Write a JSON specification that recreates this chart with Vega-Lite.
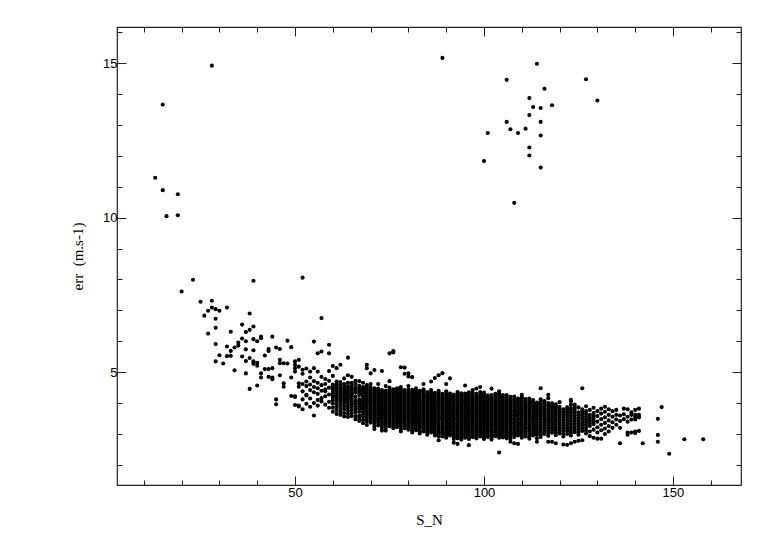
{
"$schema": "https://vega.github.io/schema/vega-lite/v6.json",
"width": 624, "height": 458,
"autosize": "none",
"padding": {"left": 117, "top": 27, "right": 41, "bottom": 57},
"background": "white",
"config": {"view": {"stroke": "#222", "strokeWidth": 1.2},
 "axis": {"domain": false, "grid": false, "tickColor": "#222", "tickWidth": 1, "labelFont": "Liberation Sans", "labelFontSize": 13, "labelColor": "black", "titleFont": "Liberation Serif", "titleFontSize": 15, "titleFontWeight": "normal", "titleColor": "black"}},
"datasets": {
"pts": [
{"x":13,"y":11.29},{"x":15,"y":13.66},{"x":15,"y":10.89},{"x":16,"y":10.05},{"x":19,"y":10.76},{"x":19,"y":10.08},{"x":28,"y":14.92},
{"x":20,"y":7.61},{"x":23,"y":7.99},{"x":25,"y":7.28},{"x":26,"y":6.83},{"x":27,"y":6.99},{"x":27,"y":6.25},{"x":28,"y":7.31},{"x":28,"y":7.09},
{"x":29,"y":7.04},{"x":29,"y":6.73},{"x":29,"y":6.44},{"x":29,"y":5.91},{"x":29,"y":5.35},{"x":30,"y":6.99},{"x":30,"y":5.55},{"x":31,"y":5.28},
{"x":32,"y":7.09},{"x":32,"y":5.83},{"x":32,"y":5.52},{"x":33,"y":6.31},{"x":33,"y":5.69},{"x":33,"y":5.53},{"x":34,"y":5.8},{"x":34,"y":5.06},
{"x":35,"y":5.96},{"x":35,"y":5.86},{"x":36,"y":6.54},{"x":36,"y":6.09},{"x":36,"y":5.51},{"x":37,"y":6.3},{"x":37,"y":6.0},{"x":37,"y":5.74},{"x":37,"y":5.36},{"x":37,"y":4.96},
{"x":38,"y":6.9},{"x":38,"y":6.37},{"x":38,"y":5.46},{"x":38,"y":4.46},{"x":39,"y":7.96},{"x":39,"y":6.48},{"x":39,"y":6.07},{"x":39,"y":5.71},{"x":39,"y":5.35},{"x":39,"y":5.27},
{"x":40,"y":6.0},{"x":40,"y":5.3},{"x":40,"y":5.21},{"x":40,"y":4.57},{"x":41,"y":6.15},{"x":41,"y":6.1},{"x":41,"y":4.96},{"x":41,"y":4.83},{"x":42,"y":5.54},{"x":42,"y":5.1},
{"x":43,"y":5.75},{"x":43,"y":5.69},{"x":43,"y":5.1},{"x":43,"y":4.85},{"x":44,"y":6.15},{"x":44,"y":5.13},{"x":44,"y":4.83},{"x":44,"y":4.77},{"x":45,"y":5.8},{"x":45,"y":4.12},{"x":45,"y":3.96},
{"x":46,"y":5.75},{"x":46,"y":5.4},{"x":46,"y":5.29},{"x":46,"y":4.9},{"x":47,"y":5.29},{"x":47,"y":4.64},{"x":47,"y":4.53},{"x":48,"y":6.02},{"x":48,"y":5.28},
{"x":49,"y":5.81},{"x":49,"y":4.83},{"x":49,"y":4.23},{"x":50,"y":5.35},{"x":50,"y":5.24},{"x":50,"y":5.13},{"x":50,"y":5.02},{"x":50,"y":4.2},{"x":50,"y":3.94},{"x":50,"y":4.22},
{"x":51,"y":5.4},{"x":51,"y":5.18},{"x":51,"y":4.64},{"x":51,"y":4.53},{"x":51,"y":3.92},{"x":51,"y":3.89},{"x":52,"y":8.06},
{"x":89,"y":15.17},{"x":114,"y":14.98},{"x":106,"y":14.46},{"x":127,"y":14.48},{"x":116,"y":14.17},{"x":112,"y":13.87},{"x":113,"y":13.58},{"x":115,"y":13.55},{"x":118,"y":13.64},{"x":130,"y":13.79},
{"x":112,"y":13.32},{"x":106,"y":13.1},{"x":115,"y":13.1},{"x":107,"y":12.86},{"x":109,"y":12.74},{"x":111,"y":12.88},{"x":101,"y":12.74},{"x":115,"y":12.66},{"x":112,"y":12.27},{"x":112,"y":12.01},
{"x":100,"y":11.83},{"x":115,"y":11.62},{"x":108,"y":10.48},
{"x":52,"y":3.8},{"x":52,"y":4.12},{"x":52,"y":4.38},{"x":52,"y":4.62},{"x":52,"y":4.95},{"x":52,"y":5.08},
{"x":53,"y":4.25},{"x":53,"y":4.27},{"x":53,"y":4.55},{"x":53,"y":4.7},{"x":53,"y":3.98},{"x":53,"y":5.12},
{"x":54,"y":3.88},{"x":54,"y":4.42},{"x":54,"y":4.6},{"x":54,"y":4.83},{"x":54,"y":5.02},{"x":54,"y":4.15},
{"x":55,"y":3.6},{"x":55,"y":4.0},{"x":55,"y":4.35},{"x":55,"y":4.52},{"x":55,"y":4.71},{"x":55,"y":5.13},{"x":55,"y":5.99},
{"x":56,"y":4.1},{"x":56,"y":4.3},{"x":56,"y":4.48},{"x":56,"y":4.66},{"x":56,"y":5.02},{"x":56,"y":5.61},{"x":56,"y":3.92},
{"x":57,"y":4.16},{"x":57,"y":4.4},{"x":57,"y":4.58},{"x":57,"y":4.85},{"x":57,"y":5.67},{"x":57,"y":6.75},{"x":57,"y":4.05},
{"x":58,"y":3.95},{"x":58,"y":4.22},{"x":58,"y":4.45},{"x":58,"y":4.62},{"x":58,"y":4.78},{"x":58,"y":4.38},
{"x":59,"y":4.04},{"x":59,"y":4.28},{"x":59,"y":4.5},{"x":59,"y":4.72},{"x":59,"y":5.04},{"x":59,"y":5.61},{"x":59,"y":5.89},{"x":59,"y":3.85},
{"x":60,"y":3.72},{"x":60,"y":3.98},{"x":60,"y":4.18},{"x":60,"y":4.32},{"x":60,"y":4.46},{"x":60,"y":4.6},{"x":60,"y":4.88},{"x":60,"y":5.2},
{"x":60,"y":3.85},{"x":60,"y":4.08},{"x":60,"y":4.25},{"x":60,"y":4.39},{"x":60,"y":4.53},
{"x":61,"y":3.9},{"x":61,"y":4.1},{"x":61,"y":4.25},{"x":61,"y":4.4},{"x":61,"y":4.55},{"x":61,"y":4.7},{"x":61,"y":5.13},{"x":61,"y":3.65},
{"x":61,"y":3.78},{"x":61,"y":4.0},{"x":61,"y":4.18},{"x":61,"y":4.33},{"x":61,"y":4.48},{"x":61,"y":4.62},
{"x":62,"y":3.62},{"x":62,"y":3.84},{"x":62,"y":4.05},{"x":62,"y":4.2},{"x":62,"y":4.36},{"x":62,"y":4.52},{"x":62,"y":4.68},{"x":62,"y":5.24},
{"x":62,"y":3.73},{"x":62,"y":3.95},{"x":62,"y":4.12},{"x":62,"y":4.28},{"x":62,"y":4.44},{"x":62,"y":4.6},
{"x":63,"y":3.57},{"x":63,"y":3.8},{"x":63,"y":4.0},{"x":63,"y":4.15},{"x":63,"y":4.3},{"x":63,"y":4.44},{"x":63,"y":4.62},{"x":63,"y":4.8},
{"x":63,"y":3.68},{"x":63,"y":3.9},{"x":63,"y":4.08},{"x":63,"y":4.22},{"x":63,"y":4.37},{"x":63,"y":4.53},
{"x":64,"y":3.75},{"x":64,"y":3.95},{"x":64,"y":4.12},{"x":64,"y":4.28},{"x":64,"y":4.4},{"x":64,"y":4.55},{"x":64,"y":4.9},{"x":64,"y":5.47},{"x":64,"y":3.55},
{"x":64,"y":3.65},{"x":64,"y":3.85},{"x":64,"y":4.04},{"x":64,"y":4.2},{"x":64,"y":4.34},{"x":64,"y":4.48},{"x":64,"y":4.66},
{"x":65,"y":3.68},{"x":65,"y":3.88},{"x":65,"y":4.05},{"x":65,"y":4.22},{"x":65,"y":4.35},{"x":65,"y":4.48},{"x":65,"y":4.66},{"x":65,"y":4.85},
{"x":65,"y":3.58},{"x":65,"y":3.78},{"x":65,"y":3.96},{"x":65,"y":4.14},{"x":65,"y":4.29},{"x":65,"y":4.42},{"x":65,"y":4.57},
{"x":66,"y":3.48},{"x":66,"y":3.7},{"x":66,"y":3.9},{"x":66,"y":4.08},{"x":66,"y":4.2},{"x":66,"y":4.34},{"x":66,"y":4.5},{"x":66,"y":4.72},
{"x":66,"y":3.58},{"x":66,"y":3.8},{"x":66,"y":4.0},{"x":66,"y":4.42},{"x":66,"y":4.62},
{"x":67,"y":3.6},{"x":67,"y":3.82},{"x":67,"y":3.98},{"x":67,"y":4.12},{"x":67,"y":4.26},{"x":67,"y":4.4},{"x":67,"y":4.56},{"x":67,"y":4.71},{"x":67,"y":3.42},
{"x":67,"y":3.52},{"x":67,"y":3.72},{"x":67,"y":3.9},{"x":67,"y":4.05},{"x":67,"y":4.33},{"x":67,"y":4.48},
{"x":68,"y":3.35},{"x":68,"y":3.55},{"x":68,"y":3.72},{"x":68,"y":3.86},{"x":68,"y":3.98},{"x":68,"y":4.1},{"x":68,"y":4.24},{"x":68,"y":4.38},{"x":68,"y":4.52},{"x":68,"y":4.66},
{"x":68,"y":3.45},{"x":68,"y":3.64},{"x":68,"y":3.8},{"x":68,"y":3.92},{"x":68,"y":4.04},{"x":68,"y":4.17},{"x":68,"y":4.31},{"x":68,"y":4.45},
{"x":69,"y":3.29},{"x":69,"y":3.5},{"x":69,"y":3.66},{"x":69,"y":3.8},{"x":69,"y":3.94},{"x":69,"y":4.06},{"x":69,"y":4.18},{"x":69,"y":4.3},{"x":69,"y":4.44},{"x":69,"y":4.58},{"x":69,"y":5.13},{"x":69,"y":5.24},
{"x":69,"y":3.4},{"x":69,"y":3.58},{"x":69,"y":3.73},{"x":69,"y":3.87},{"x":69,"y":4.0},{"x":69,"y":4.12},{"x":69,"y":4.24},{"x":69,"y":4.37},{"x":69,"y":4.51},
{"x":70,"y":3.37},{"x":70,"y":3.52},{"x":70,"y":3.64},{"x":70,"y":3.76},{"x":70,"y":3.88},{"x":70,"y":4.0},{"x":70,"y":4.12},{"x":70,"y":4.24},{"x":70,"y":4.36},{"x":70,"y":4.5},{"x":70,"y":4.96},
{"x":70,"y":3.44},{"x":70,"y":3.58},{"x":70,"y":3.7},{"x":70,"y":3.82},{"x":70,"y":3.94},{"x":70,"y":4.06},{"x":70,"y":4.18},{"x":70,"y":4.3},{"x":70,"y":4.43},{"x":70,"y":4.62},
{"x":71,"y":3.16},{"x":71,"y":3.33},{"x":71,"y":3.48},{"x":71,"y":3.6},{"x":71,"y":3.72},{"x":71,"y":3.85},{"x":71,"y":3.97},{"x":71,"y":4.1},{"x":71,"y":4.22},{"x":71,"y":4.34},{"x":71,"y":4.48},{"x":71,"y":5.07},
{"x":71,"y":3.25},{"x":71,"y":3.41},{"x":71,"y":3.54},{"x":71,"y":3.66},{"x":71,"y":3.78},{"x":71,"y":3.91},{"x":71,"y":4.03},{"x":71,"y":4.16},{"x":71,"y":4.28},{"x":71,"y":4.41},
{"x":72,"y":3.37},{"x":72,"y":3.5},{"x":72,"y":3.62},{"x":72,"y":3.74},{"x":72,"y":3.86},{"x":72,"y":3.98},{"x":72,"y":4.1},{"x":72,"y":4.22},{"x":72,"y":4.35},{"x":72,"y":4.47},{"x":72,"y":4.62},
{"x":72,"y":3.28},{"x":72,"y":3.44},{"x":72,"y":3.56},{"x":72,"y":3.68},{"x":72,"y":3.8},{"x":72,"y":3.92},{"x":72,"y":4.04},{"x":72,"y":4.16},{"x":72,"y":4.29},{"x":72,"y":4.41},
{"x":73,"y":3.11},{"x":73,"y":3.3},{"x":73,"y":3.45},{"x":73,"y":3.58},{"x":73,"y":3.7},{"x":73,"y":3.82},{"x":73,"y":3.95},{"x":73,"y":4.07},{"x":73,"y":4.18},{"x":73,"y":4.3},{"x":73,"y":4.42},{"x":73,"y":5.04},
{"x":73,"y":3.21},{"x":73,"y":3.38},{"x":73,"y":3.52},{"x":73,"y":3.64},{"x":73,"y":3.76},{"x":73,"y":3.88},{"x":73,"y":4.01},{"x":73,"y":4.13},{"x":73,"y":4.24},{"x":73,"y":4.36},
{"x":74,"y":3.11},{"x":74,"y":3.28},{"x":74,"y":3.42},{"x":74,"y":3.55},{"x":74,"y":3.68},{"x":74,"y":3.8},{"x":74,"y":3.92},{"x":74,"y":4.04},{"x":74,"y":4.16},{"x":74,"y":4.28},{"x":74,"y":4.4},{"x":74,"y":4.55},
{"x":74,"y":3.2},{"x":74,"y":3.35},{"x":74,"y":3.49},{"x":74,"y":3.62},{"x":74,"y":3.74},{"x":74,"y":3.86},{"x":74,"y":3.98},{"x":74,"y":4.1},{"x":74,"y":4.22},{"x":74,"y":4.34},
{"x":75,"y":3.25},{"x":75,"y":3.4},{"x":75,"y":3.52},{"x":75,"y":3.64},{"x":75,"y":3.76},{"x":75,"y":3.88},{"x":75,"y":4.0},{"x":75,"y":4.12},{"x":75,"y":4.24},{"x":75,"y":4.36},{"x":75,"y":4.5},{"x":75,"y":4.71},{"x":75,"y":5.61},
{"x":75,"y":3.32},{"x":75,"y":3.46},{"x":75,"y":3.58},{"x":75,"y":3.7},{"x":75,"y":3.82},{"x":75,"y":3.94},{"x":75,"y":4.06},{"x":75,"y":4.18},{"x":75,"y":4.3},{"x":75,"y":4.43},
{"x":76,"y":3.19},{"x":76,"y":3.34},{"x":76,"y":3.47},{"x":76,"y":3.6},{"x":76,"y":3.72},{"x":76,"y":3.84},{"x":76,"y":3.96},{"x":76,"y":4.08},{"x":76,"y":4.2},{"x":76,"y":4.32},{"x":76,"y":4.45},{"x":76,"y":5.64},{"x":76,"y":5.68},
{"x":76,"y":3.27},{"x":76,"y":3.41},{"x":76,"y":3.54},{"x":76,"y":3.66},{"x":76,"y":3.78},{"x":76,"y":3.9},{"x":76,"y":4.02},{"x":76,"y":4.14},{"x":76,"y":4.26},{"x":76,"y":4.38},
{"x":77,"y":3.22},{"x":77,"y":3.36},{"x":77,"y":3.5},{"x":77,"y":3.62},{"x":77,"y":3.74},{"x":77,"y":3.86},{"x":77,"y":3.98},{"x":77,"y":4.1},{"x":77,"y":4.22},{"x":77,"y":4.35},{"x":77,"y":4.48},
{"x":77,"y":3.29},{"x":77,"y":3.43},{"x":77,"y":3.56},{"x":77,"y":3.68},{"x":77,"y":3.8},{"x":77,"y":3.92},{"x":77,"y":4.04},{"x":77,"y":4.16},{"x":77,"y":4.28},{"x":77,"y":4.41},
{"x":78,"y":3.08},{"x":78,"y":3.26},{"x":78,"y":3.4},{"x":78,"y":3.53},{"x":78,"y":3.65},{"x":78,"y":3.77},{"x":78,"y":3.89},{"x":78,"y":4.01},{"x":78,"y":4.13},{"x":78,"y":4.25},{"x":78,"y":4.38},{"x":78,"y":4.52},{"x":78,"y":5.16},
{"x":78,"y":3.17},{"x":78,"y":3.33},{"x":78,"y":3.47},{"x":78,"y":3.59},{"x":78,"y":3.71},{"x":78,"y":3.83},{"x":78,"y":3.95},{"x":78,"y":4.07},{"x":78,"y":4.19},{"x":78,"y":4.31},{"x":78,"y":4.45},
{"x":79,"y":3.19},{"x":79,"y":3.32},{"x":79,"y":3.45},{"x":79,"y":3.57},{"x":79,"y":3.69},{"x":79,"y":3.81},{"x":79,"y":3.93},{"x":79,"y":4.05},{"x":79,"y":4.17},{"x":79,"y":4.29},{"x":79,"y":4.42},{"x":79,"y":4.95},{"x":79,"y":5.15},
{"x":79,"y":3.26},{"x":79,"y":3.39},{"x":79,"y":3.51},{"x":79,"y":3.63},{"x":79,"y":3.75},{"x":79,"y":3.87},{"x":79,"y":3.99},{"x":79,"y":4.11},{"x":79,"y":4.23},{"x":79,"y":4.35},
{"x":80,"y":3.14},{"x":80,"y":3.28},{"x":80,"y":3.4},{"x":80,"y":3.52},{"x":80,"y":3.64},{"x":80,"y":3.76},{"x":80,"y":3.88},{"x":80,"y":4.0},{"x":80,"y":4.12},{"x":80,"y":4.24},{"x":80,"y":4.36},{"x":80,"y":4.55},{"x":80,"y":4.86},{"x":80,"y":4.96},
{"x":80,"y":3.21},{"x":80,"y":3.34},{"x":80,"y":3.46},{"x":80,"y":3.58},{"x":80,"y":3.7},{"x":80,"y":3.82},{"x":80,"y":3.94},{"x":80,"y":4.06},{"x":80,"y":4.18},{"x":80,"y":4.3},{"x":80,"y":4.44},
{"x":81,"y":3.05},{"x":81,"y":3.2},{"x":81,"y":3.34},{"x":81,"y":3.46},{"x":81,"y":3.58},{"x":81,"y":3.7},{"x":81,"y":3.82},{"x":81,"y":3.94},{"x":81,"y":4.06},{"x":81,"y":4.18},{"x":81,"y":4.3},{"x":81,"y":4.43},{"x":81,"y":4.84},
{"x":81,"y":3.12},{"x":81,"y":3.27},{"x":81,"y":3.4},{"x":81,"y":3.52},{"x":81,"y":3.64},{"x":81,"y":3.76},{"x":81,"y":3.88},{"x":81,"y":4.0},{"x":81,"y":4.12},{"x":81,"y":4.24},{"x":81,"y":4.36},
{"x":82,"y":3.12},{"x":82,"y":3.25},{"x":82,"y":3.38},{"x":82,"y":3.5},{"x":82,"y":3.62},{"x":82,"y":3.74},{"x":82,"y":3.86},{"x":82,"y":3.98},{"x":82,"y":4.1},{"x":82,"y":4.22},{"x":82,"y":4.34},{"x":82,"y":4.48},
{"x":82,"y":3.18},{"x":82,"y":3.31},{"x":82,"y":3.44},{"x":82,"y":3.56},{"x":82,"y":3.68},{"x":82,"y":3.8},{"x":82,"y":3.92},{"x":82,"y":4.04},{"x":82,"y":4.16},{"x":82,"y":4.28},{"x":82,"y":4.4},
{"x":83,"y":3.02},{"x":83,"y":3.16},{"x":83,"y":3.3},{"x":83,"y":3.42},{"x":83,"y":3.54},{"x":83,"y":3.66},{"x":83,"y":3.78},{"x":83,"y":3.9},{"x":83,"y":4.02},{"x":83,"y":4.14},{"x":83,"y":4.26},{"x":83,"y":4.4},
{"x":83,"y":3.09},{"x":83,"y":3.23},{"x":83,"y":3.36},{"x":83,"y":3.48},{"x":83,"y":3.6},{"x":83,"y":3.72},{"x":83,"y":3.84},{"x":83,"y":3.96},{"x":83,"y":4.08},{"x":83,"y":4.2},{"x":83,"y":4.33},
{"x":84,"y":3.08},{"x":84,"y":3.22},{"x":84,"y":3.35},{"x":84,"y":3.47},{"x":84,"y":3.59},{"x":84,"y":3.71},{"x":84,"y":3.83},{"x":84,"y":3.95},{"x":84,"y":4.07},{"x":84,"y":4.19},{"x":84,"y":4.31},{"x":84,"y":4.45},{"x":84,"y":4.62},
{"x":84,"y":3.15},{"x":84,"y":3.28},{"x":84,"y":3.41},{"x":84,"y":3.53},{"x":84,"y":3.65},{"x":84,"y":3.77},{"x":84,"y":3.89},{"x":84,"y":4.01},{"x":84,"y":4.13},{"x":84,"y":4.25},{"x":84,"y":4.38},
{"x":85,"y":2.98},{"x":85,"y":3.12},{"x":85,"y":3.26},{"x":85,"y":3.39},{"x":85,"y":3.51},{"x":85,"y":3.63},{"x":85,"y":3.75},{"x":85,"y":3.87},{"x":85,"y":3.99},{"x":85,"y":4.11},{"x":85,"y":4.23},{"x":85,"y":4.36},
{"x":85,"y":3.05},{"x":85,"y":3.19},{"x":85,"y":3.32},{"x":85,"y":3.45},{"x":85,"y":3.57},{"x":85,"y":3.69},{"x":85,"y":3.81},{"x":85,"y":3.93},{"x":85,"y":4.05},{"x":85,"y":4.17},{"x":85,"y":4.29},
{"x":86,"y":3.05},{"x":86,"y":3.18},{"x":86,"y":3.31},{"x":86,"y":3.44},{"x":86,"y":3.56},{"x":86,"y":3.68},{"x":86,"y":3.8},{"x":86,"y":3.92},{"x":86,"y":4.04},{"x":86,"y":4.16},{"x":86,"y":4.28},{"x":86,"y":4.42},{"x":86,"y":4.7},
{"x":86,"y":3.11},{"x":86,"y":3.24},{"x":86,"y":3.37},{"x":86,"y":3.5},{"x":86,"y":3.62},{"x":86,"y":3.74},{"x":86,"y":3.86},{"x":86,"y":3.98},{"x":86,"y":4.1},{"x":86,"y":4.22},{"x":86,"y":4.35},
{"x":87,"y":2.95},{"x":87,"y":3.1},{"x":87,"y":3.23},{"x":87,"y":3.36},{"x":87,"y":3.48},{"x":87,"y":3.6},{"x":87,"y":3.72},{"x":87,"y":3.84},{"x":87,"y":3.96},{"x":87,"y":4.08},{"x":87,"y":4.2},{"x":87,"y":4.33},{"x":87,"y":4.81},
{"x":87,"y":3.02},{"x":87,"y":3.16},{"x":87,"y":3.29},{"x":87,"y":3.42},{"x":87,"y":3.54},{"x":87,"y":3.66},{"x":87,"y":3.78},{"x":87,"y":3.9},{"x":87,"y":4.02},{"x":87,"y":4.14},{"x":87,"y":4.26},
{"x":88,"y":2.8},{"x":88,"y":3.02},{"x":88,"y":3.16},{"x":88,"y":3.29},{"x":88,"y":3.42},{"x":88,"y":3.54},{"x":88,"y":3.66},{"x":88,"y":3.78},{"x":88,"y":3.9},{"x":88,"y":4.02},{"x":88,"y":4.14},{"x":88,"y":4.27},{"x":88,"y":4.4},{"x":88,"y":4.9},
{"x":88,"y":2.92},{"x":88,"y":3.09},{"x":88,"y":3.22},{"x":88,"y":3.35},{"x":88,"y":3.48},{"x":88,"y":3.6},{"x":88,"y":3.72},{"x":88,"y":3.84},{"x":88,"y":3.96},{"x":88,"y":4.08},{"x":88,"y":4.2},{"x":88,"y":4.33},
{"x":89,"y":2.92},{"x":89,"y":3.06},{"x":89,"y":3.2},{"x":89,"y":3.33},{"x":89,"y":3.45},{"x":89,"y":3.57},{"x":89,"y":3.69},{"x":89,"y":3.81},{"x":89,"y":3.93},{"x":89,"y":4.05},{"x":89,"y":4.17},{"x":89,"y":4.3},{"x":89,"y":4.97},
{"x":89,"y":2.99},{"x":89,"y":3.13},{"x":89,"y":3.26},{"x":89,"y":3.39},{"x":89,"y":3.51},{"x":89,"y":3.63},{"x":89,"y":3.75},{"x":89,"y":3.87},{"x":89,"y":3.99},{"x":89,"y":4.11},{"x":89,"y":4.23},
{"x":90,"y":2.88},{"x":90,"y":3.0},{"x":90,"y":3.13},{"x":90,"y":3.26},{"x":90,"y":3.39},{"x":90,"y":3.51},{"x":90,"y":3.63},{"x":90,"y":3.75},{"x":90,"y":3.87},{"x":90,"y":3.99},{"x":90,"y":4.11},{"x":90,"y":4.24},{"x":90,"y":4.38},{"x":90,"y":4.62},
{"x":90,"y":2.94},{"x":90,"y":3.06},{"x":90,"y":3.19},{"x":90,"y":3.32},{"x":90,"y":3.45},{"x":90,"y":3.57},{"x":90,"y":3.69},{"x":90,"y":3.81},{"x":90,"y":3.93},{"x":90,"y":4.05},{"x":90,"y":4.17},{"x":90,"y":4.31},
{"x":91,"y":2.95},{"x":91,"y":3.08},{"x":91,"y":3.21},{"x":91,"y":3.34},{"x":91,"y":3.46},{"x":91,"y":3.58},{"x":91,"y":3.7},{"x":91,"y":3.82},{"x":91,"y":3.94},{"x":91,"y":4.06},{"x":91,"y":4.18},{"x":91,"y":4.31},{"x":91,"y":4.8},
{"x":91,"y":3.01},{"x":91,"y":3.14},{"x":91,"y":3.27},{"x":91,"y":3.4},{"x":91,"y":3.52},{"x":91,"y":3.64},{"x":91,"y":3.76},{"x":91,"y":3.88},{"x":91,"y":4.0},{"x":91,"y":4.12},{"x":91,"y":4.24},
{"x":92,"y":2.72},{"x":92,"y":2.9},{"x":92,"y":3.03},{"x":92,"y":3.16},{"x":92,"y":3.29},{"x":92,"y":3.42},{"x":92,"y":3.54},{"x":92,"y":3.66},{"x":92,"y":3.78},{"x":92,"y":3.9},{"x":92,"y":4.02},{"x":92,"y":4.14},{"x":92,"y":4.28},
{"x":92,"y":2.84},{"x":92,"y":2.96},{"x":92,"y":3.09},{"x":92,"y":3.22},{"x":92,"y":3.35},{"x":92,"y":3.48},{"x":92,"y":3.6},{"x":92,"y":3.72},{"x":92,"y":3.84},{"x":92,"y":3.96},{"x":92,"y":4.08},{"x":92,"y":4.21},
{"x":93,"y":2.68},{"x":93,"y":2.86},{"x":93,"y":2.99},{"x":93,"y":3.12},{"x":93,"y":3.25},{"x":93,"y":3.37},{"x":93,"y":3.49},{"x":93,"y":3.61},{"x":93,"y":3.73},{"x":93,"y":3.85},{"x":93,"y":3.97},{"x":93,"y":4.09},{"x":93,"y":4.22},{"x":93,"y":4.36},
{"x":93,"y":2.92},{"x":93,"y":3.05},{"x":93,"y":3.18},{"x":93,"y":3.31},{"x":93,"y":3.43},{"x":93,"y":3.55},{"x":93,"y":3.67},{"x":93,"y":3.79},{"x":93,"y":3.91},{"x":93,"y":4.03},{"x":93,"y":4.15},{"x":93,"y":4.29},
{"x":94,"y":2.82},{"x":94,"y":2.95},{"x":94,"y":3.08},{"x":94,"y":3.21},{"x":94,"y":3.33},{"x":94,"y":3.45},{"x":94,"y":3.57},{"x":94,"y":3.69},{"x":94,"y":3.81},{"x":94,"y":3.93},{"x":94,"y":4.05},{"x":94,"y":4.18},{"x":94,"y":4.32},
{"x":94,"y":2.88},{"x":94,"y":3.01},{"x":94,"y":3.14},{"x":94,"y":3.27},{"x":94,"y":3.39},{"x":94,"y":3.51},{"x":94,"y":3.63},{"x":94,"y":3.75},{"x":94,"y":3.87},{"x":94,"y":3.99},{"x":94,"y":4.11},{"x":94,"y":4.25},
{"x":95,"y":2.88},{"x":95,"y":3.01},{"x":95,"y":3.14},{"x":95,"y":3.27},{"x":95,"y":3.39},{"x":95,"y":3.51},{"x":95,"y":3.63},{"x":95,"y":3.75},{"x":95,"y":3.87},{"x":95,"y":3.99},{"x":95,"y":4.11},{"x":95,"y":4.24},{"x":95,"y":4.57},
{"x":95,"y":2.94},{"x":95,"y":3.07},{"x":95,"y":3.2},{"x":95,"y":3.33},{"x":95,"y":3.45},{"x":95,"y":3.57},{"x":95,"y":3.69},{"x":95,"y":3.81},{"x":95,"y":3.93},{"x":95,"y":4.05},{"x":95,"y":4.17},{"x":95,"y":4.31},
{"x":96,"y":2.64},{"x":96,"y":2.84},{"x":96,"y":2.97},{"x":96,"y":3.1},{"x":96,"y":3.23},{"x":96,"y":3.35},{"x":96,"y":3.47},{"x":96,"y":3.59},{"x":96,"y":3.71},{"x":96,"y":3.83},{"x":96,"y":3.95},{"x":96,"y":4.07},{"x":96,"y":4.2},{"x":96,"y":4.35},
{"x":96,"y":2.9},{"x":96,"y":3.03},{"x":96,"y":3.16},{"x":96,"y":3.29},{"x":96,"y":3.41},{"x":96,"y":3.53},{"x":96,"y":3.65},{"x":96,"y":3.77},{"x":96,"y":3.89},{"x":96,"y":4.01},{"x":96,"y":4.13},{"x":96,"y":4.27},
{"x":97,"y":2.9},{"x":97,"y":3.03},{"x":97,"y":3.16},{"x":97,"y":3.29},{"x":97,"y":3.41},{"x":97,"y":3.53},{"x":97,"y":3.65},{"x":97,"y":3.77},{"x":97,"y":3.89},{"x":97,"y":4.01},{"x":97,"y":4.13},{"x":97,"y":4.26},{"x":97,"y":4.42},
{"x":97,"y":2.96},{"x":97,"y":3.09},{"x":97,"y":3.22},{"x":97,"y":3.35},{"x":97,"y":3.47},{"x":97,"y":3.59},{"x":97,"y":3.71},{"x":97,"y":3.83},{"x":97,"y":3.95},{"x":97,"y":4.07},{"x":97,"y":4.19},{"x":97,"y":4.33},
{"x":98,"y":2.86},{"x":98,"y":2.99},{"x":98,"y":3.12},{"x":98,"y":3.25},{"x":98,"y":3.37},{"x":98,"y":3.49},{"x":98,"y":3.61},{"x":98,"y":3.73},{"x":98,"y":3.85},{"x":98,"y":3.97},{"x":98,"y":4.09},{"x":98,"y":4.22},{"x":98,"y":4.47},
{"x":98,"y":2.92},{"x":98,"y":3.05},{"x":98,"y":3.18},{"x":98,"y":3.31},{"x":98,"y":3.43},{"x":98,"y":3.55},{"x":98,"y":3.67},{"x":98,"y":3.79},{"x":98,"y":3.91},{"x":98,"y":4.03},{"x":98,"y":4.15},{"x":98,"y":4.3},
{"x":99,"y":2.92},{"x":99,"y":3.05},{"x":99,"y":3.18},{"x":99,"y":3.31},{"x":99,"y":3.43},{"x":99,"y":3.55},{"x":99,"y":3.67},{"x":99,"y":3.79},{"x":99,"y":3.91},{"x":99,"y":4.03},{"x":99,"y":4.15},{"x":99,"y":4.28},{"x":99,"y":4.52},
{"x":99,"y":2.98},{"x":99,"y":3.11},{"x":99,"y":3.24},{"x":99,"y":3.37},{"x":99,"y":3.49},{"x":99,"y":3.61},{"x":99,"y":3.73},{"x":99,"y":3.85},{"x":99,"y":3.97},{"x":99,"y":4.09},{"x":99,"y":4.21},{"x":99,"y":4.36},
{"x":100,"y":2.84},{"x":100,"y":2.97},{"x":100,"y":3.1},{"x":100,"y":3.23},{"x":100,"y":3.35},{"x":100,"y":3.47},{"x":100,"y":3.59},{"x":100,"y":3.71},{"x":100,"y":3.83},{"x":100,"y":3.95},{"x":100,"y":4.07},{"x":100,"y":4.2},{"x":100,"y":4.34},
{"x":100,"y":2.9},{"x":100,"y":3.03},{"x":100,"y":3.16},{"x":100,"y":3.29},{"x":100,"y":3.41},{"x":100,"y":3.53},{"x":100,"y":3.65},{"x":100,"y":3.77},{"x":100,"y":3.89},{"x":100,"y":4.01},{"x":100,"y":4.13},{"x":100,"y":4.27},
{"x":101,"y":2.9},{"x":101,"y":3.03},{"x":101,"y":3.16},{"x":101,"y":3.28},{"x":101,"y":3.4},{"x":101,"y":3.52},{"x":101,"y":3.64},{"x":101,"y":3.76},{"x":101,"y":3.88},{"x":101,"y":4.0},{"x":101,"y":4.12},{"x":101,"y":4.25},
{"x":101,"y":2.96},{"x":101,"y":3.09},{"x":101,"y":3.22},{"x":101,"y":3.34},{"x":101,"y":3.46},{"x":101,"y":3.58},{"x":101,"y":3.7},{"x":101,"y":3.82},{"x":101,"y":3.94},{"x":101,"y":4.06},{"x":101,"y":4.18},
{"x":102,"y":2.82},{"x":102,"y":2.95},{"x":102,"y":3.08},{"x":102,"y":3.21},{"x":102,"y":3.33},{"x":102,"y":3.45},{"x":102,"y":3.57},{"x":102,"y":3.69},{"x":102,"y":3.81},{"x":102,"y":3.93},{"x":102,"y":4.05},{"x":102,"y":4.18},{"x":102,"y":4.47},
{"x":102,"y":2.88},{"x":102,"y":3.01},{"x":102,"y":3.14},{"x":102,"y":3.27},{"x":102,"y":3.39},{"x":102,"y":3.51},{"x":102,"y":3.63},{"x":102,"y":3.75},{"x":102,"y":3.87},{"x":102,"y":3.99},{"x":102,"y":4.11},{"x":102,"y":4.26},
{"x":103,"y":2.93},{"x":103,"y":3.06},{"x":103,"y":3.19},{"x":103,"y":3.31},{"x":103,"y":3.43},{"x":103,"y":3.55},{"x":103,"y":3.67},{"x":103,"y":3.79},{"x":103,"y":3.91},{"x":103,"y":4.03},{"x":103,"y":4.16},{"x":103,"y":4.3},
{"x":103,"y":2.99},{"x":103,"y":3.12},{"x":103,"y":3.25},{"x":103,"y":3.37},{"x":103,"y":3.49},{"x":103,"y":3.61},{"x":103,"y":3.73},{"x":103,"y":3.85},{"x":103,"y":3.97},{"x":103,"y":4.09},{"x":103,"y":4.23},
{"x":104,"y":2.4},{"x":104,"y":2.88},{"x":104,"y":3.01},{"x":104,"y":3.14},{"x":104,"y":3.26},{"x":104,"y":3.38},{"x":104,"y":3.5},{"x":104,"y":3.62},{"x":104,"y":3.74},{"x":104,"y":3.86},{"x":104,"y":3.98},{"x":104,"y":4.1},{"x":104,"y":4.24},{"x":104,"y":4.38},
{"x":104,"y":2.94},{"x":104,"y":3.07},{"x":104,"y":3.2},{"x":104,"y":3.32},{"x":104,"y":3.44},{"x":104,"y":3.56},{"x":104,"y":3.68},{"x":104,"y":3.8},{"x":104,"y":3.92},{"x":104,"y":4.04},{"x":104,"y":4.17},{"x":104,"y":4.31},
{"x":105,"y":2.95},{"x":105,"y":3.08},{"x":105,"y":3.21},{"x":105,"y":3.33},{"x":105,"y":3.45},{"x":105,"y":3.57},{"x":105,"y":3.69},{"x":105,"y":3.81},{"x":105,"y":3.93},{"x":105,"y":4.05},{"x":105,"y":4.18},
{"x":105,"y":2.89},{"x":105,"y":3.01},{"x":105,"y":3.14},{"x":105,"y":3.27},{"x":105,"y":3.39},{"x":105,"y":3.51},{"x":105,"y":3.63},{"x":105,"y":3.75},{"x":105,"y":3.87},{"x":105,"y":3.99},{"x":105,"y":4.11},{"x":105,"y":4.26},
{"x":106,"y":2.86},{"x":106,"y":3.0},{"x":106,"y":3.13},{"x":106,"y":3.26},{"x":106,"y":3.38},{"x":106,"y":3.5},{"x":106,"y":3.62},{"x":106,"y":3.74},{"x":106,"y":3.86},{"x":106,"y":3.98},{"x":106,"y":4.11},{"x":106,"y":4.26},
{"x":106,"y":2.93},{"x":106,"y":3.06},{"x":106,"y":3.19},{"x":106,"y":3.32},{"x":106,"y":3.44},{"x":106,"y":3.56},{"x":106,"y":3.68},{"x":106,"y":3.8},{"x":106,"y":3.92},{"x":106,"y":4.04},{"x":106,"y":4.18},
{"x":107,"y":2.75},{"x":107,"y":2.92},{"x":107,"y":3.06},{"x":107,"y":3.2},{"x":107,"y":3.34},{"x":107,"y":3.47},{"x":107,"y":3.6},{"x":107,"y":3.73},{"x":107,"y":3.86},{"x":107,"y":3.99},{"x":107,"y":4.13},
{"x":107,"y":2.84},{"x":107,"y":2.99},{"x":107,"y":3.13},{"x":107,"y":3.27},{"x":107,"y":3.4},{"x":107,"y":3.53},{"x":107,"y":3.66},{"x":107,"y":3.79},{"x":107,"y":3.92},{"x":107,"y":4.06},{"x":107,"y":4.2},
{"x":108,"y":2.7},{"x":108,"y":2.9},{"x":108,"y":3.05},{"x":108,"y":3.19},{"x":108,"y":3.32},{"x":108,"y":3.45},{"x":108,"y":3.58},{"x":108,"y":3.71},{"x":108,"y":3.84},{"x":108,"y":3.98},{"x":108,"y":4.21},
{"x":108,"y":2.98},{"x":108,"y":3.12},{"x":108,"y":3.25},{"x":108,"y":3.38},{"x":108,"y":3.51},{"x":108,"y":3.64},{"x":108,"y":3.77},{"x":108,"y":3.91},{"x":108,"y":4.05},{"x":108,"y":4.12},
{"x":109,"y":2.68},{"x":109,"y":2.95},{"x":109,"y":3.1},{"x":109,"y":3.24},{"x":109,"y":3.38},{"x":109,"y":3.52},{"x":109,"y":3.66},{"x":109,"y":3.8},{"x":109,"y":3.94},{"x":109,"y":4.08},
{"x":109,"y":3.02},{"x":109,"y":3.17},{"x":109,"y":3.31},{"x":109,"y":3.45},{"x":109,"y":3.59},{"x":109,"y":3.73},{"x":109,"y":3.87},{"x":109,"y":4.01},{"x":109,"y":4.15},
{"x":110,"y":2.88},{"x":110,"y":3.03},{"x":110,"y":3.17},{"x":110,"y":3.31},{"x":110,"y":3.45},{"x":110,"y":3.59},{"x":110,"y":3.73},{"x":110,"y":3.87},{"x":110,"y":4.0},{"x":110,"y":4.14},{"x":110,"y":4.27},
{"x":110,"y":2.95},{"x":110,"y":3.1},{"x":110,"y":3.24},{"x":110,"y":3.38},{"x":110,"y":3.52},{"x":110,"y":3.66},{"x":110,"y":3.8},{"x":110,"y":3.93},{"x":110,"y":4.07},{"x":110,"y":4.2},
{"x":111,"y":2.92},{"x":111,"y":3.08},{"x":111,"y":3.22},{"x":111,"y":3.36},{"x":111,"y":3.5},{"x":111,"y":3.64},{"x":111,"y":3.78},{"x":111,"y":3.92},{"x":111,"y":4.06},
{"x":111,"y":3.0},{"x":111,"y":3.15},{"x":111,"y":3.29},{"x":111,"y":3.43},{"x":111,"y":3.57},{"x":111,"y":3.71},{"x":111,"y":3.85},{"x":111,"y":3.99},{"x":111,"y":4.13},
{"x":112,"y":2.85},{"x":112,"y":3.0},{"x":112,"y":3.15},{"x":112,"y":3.3},{"x":112,"y":3.44},{"x":112,"y":3.58},{"x":112,"y":3.72},{"x":112,"y":3.86},{"x":112,"y":4.0},{"x":112,"y":4.15},
{"x":112,"y":2.92},{"x":112,"y":3.07},{"x":112,"y":3.22},{"x":112,"y":3.37},{"x":112,"y":3.51},{"x":112,"y":3.65},{"x":112,"y":3.79},{"x":112,"y":3.93},{"x":112,"y":4.07},
{"x":113,"y":2.95},{"x":113,"y":3.1},{"x":113,"y":3.25},{"x":113,"y":3.4},{"x":113,"y":3.54},{"x":113,"y":3.68},{"x":113,"y":3.82},{"x":113,"y":3.96},{"x":113,"y":4.1},
{"x":113,"y":3.02},{"x":113,"y":3.17},{"x":113,"y":3.32},{"x":113,"y":3.47},{"x":113,"y":3.61},{"x":113,"y":3.75},{"x":113,"y":3.89},{"x":113,"y":4.03},
{"x":114,"y":2.75},{"x":114,"y":2.98},{"x":114,"y":3.14},{"x":114,"y":3.3},{"x":114,"y":3.46},{"x":114,"y":3.6},{"x":114,"y":3.74},{"x":114,"y":3.88},{"x":114,"y":4.02},
{"x":114,"y":2.86},{"x":114,"y":3.06},{"x":114,"y":3.22},{"x":114,"y":3.38},{"x":114,"y":3.53},{"x":114,"y":3.67},{"x":114,"y":3.81},{"x":114,"y":3.95},
{"x":115,"y":2.9},{"x":115,"y":3.06},{"x":115,"y":3.22},{"x":115,"y":3.38},{"x":115,"y":3.53},{"x":115,"y":3.68},{"x":115,"y":3.83},{"x":115,"y":3.98},{"x":115,"y":4.12},{"x":115,"y":4.48},
{"x":115,"y":2.98},{"x":115,"y":3.14},{"x":115,"y":3.3},{"x":115,"y":3.45},{"x":115,"y":3.6},{"x":115,"y":3.75},{"x":115,"y":3.9},{"x":115,"y":4.05},
{"x":116,"y":3.0},{"x":116,"y":3.16},{"x":116,"y":3.32},{"x":116,"y":3.48},{"x":116,"y":3.63},{"x":116,"y":3.78},{"x":116,"y":3.93},{"x":116,"y":4.07},
{"x":116,"y":3.08},{"x":116,"y":3.24},{"x":116,"y":3.4},{"x":116,"y":3.55},{"x":116,"y":3.7},{"x":116,"y":3.85},{"x":116,"y":4.0},
{"x":117,"y":2.75},{"x":117,"y":2.94},{"x":117,"y":3.12},{"x":117,"y":3.28},{"x":117,"y":3.44},{"x":117,"y":3.6},{"x":117,"y":3.76},{"x":117,"y":3.92},{"x":117,"y":4.0},{"x":117,"y":4.16},{"x":117,"y":4.27},
{"x":117,"y":3.03},{"x":117,"y":3.2},{"x":117,"y":3.36},{"x":117,"y":3.52},{"x":117,"y":3.68},{"x":117,"y":3.84},
{"x":118,"y":2.75},{"x":118,"y":3.04},{"x":118,"y":3.2},{"x":118,"y":3.36},{"x":118,"y":3.52},{"x":118,"y":3.68},{"x":118,"y":3.84},{"x":118,"y":3.99},
{"x":118,"y":3.12},{"x":118,"y":3.28},{"x":118,"y":3.44},{"x":118,"y":3.6},{"x":118,"y":3.76},{"x":118,"y":3.91},
{"x":119,"y":2.7},{"x":119,"y":2.96},{"x":119,"y":3.14},{"x":119,"y":3.32},{"x":119,"y":3.5},{"x":119,"y":3.66},{"x":119,"y":3.82},{"x":119,"y":3.96},
{"x":119,"y":3.05},{"x":119,"y":3.23},{"x":119,"y":3.41},{"x":119,"y":3.58},{"x":119,"y":3.74},{"x":119,"y":3.89},
{"x":120,"y":3.02},{"x":120,"y":3.2},{"x":120,"y":3.38},{"x":120,"y":3.55},{"x":120,"y":3.72},{"x":120,"y":3.88},{"x":120,"y":4.03},
{"x":120,"y":3.11},{"x":120,"y":3.29},{"x":120,"y":3.46},{"x":120,"y":3.63},{"x":120,"y":3.8},
{"x":121,"y":2.66},{"x":121,"y":2.92},{"x":121,"y":3.1},{"x":121,"y":3.28},{"x":121,"y":3.46},{"x":121,"y":3.64},{"x":121,"y":3.8},
{"x":121,"y":3.01},{"x":121,"y":3.19},{"x":121,"y":3.37},{"x":121,"y":3.55},{"x":121,"y":3.72},
{"x":122,"y":2.65},{"x":122,"y":3.0},{"x":122,"y":3.18},{"x":122,"y":3.36},{"x":122,"y":3.54},{"x":122,"y":3.7},{"x":122,"y":3.86},
{"x":122,"y":3.09},{"x":122,"y":3.27},{"x":122,"y":3.45},{"x":122,"y":3.62},{"x":122,"y":3.78},
{"x":123,"y":2.7},{"x":123,"y":2.95},{"x":123,"y":3.14},{"x":123,"y":3.32},{"x":123,"y":3.5},{"x":123,"y":3.68},{"x":123,"y":3.84},{"x":123,"y":3.95},{"x":123,"y":4.06},{"x":123,"y":4.11},
{"x":123,"y":3.05},{"x":123,"y":3.23},{"x":123,"y":3.41},{"x":123,"y":3.59},{"x":123,"y":3.76},
{"x":124,"y":2.75},{"x":124,"y":3.06},{"x":124,"y":3.24},{"x":124,"y":3.42},{"x":124,"y":3.6},{"x":124,"y":3.78},{"x":124,"y":3.95},
{"x":124,"y":3.15},{"x":124,"y":3.33},{"x":124,"y":3.51},{"x":124,"y":3.69},{"x":124,"y":3.86},
{"x":125,"y":2.78},{"x":125,"y":2.98},{"x":125,"y":3.16},{"x":125,"y":3.34},{"x":125,"y":3.52},{"x":125,"y":3.7},{"x":125,"y":3.86},
{"x":125,"y":3.07},{"x":125,"y":3.25},{"x":125,"y":3.43},{"x":125,"y":3.61},
{"x":126,"y":2.8},{"x":126,"y":3.1},{"x":126,"y":3.28},{"x":126,"y":3.46},{"x":126,"y":3.64},{"x":126,"y":3.8},{"x":126,"y":4.48},
{"x":126,"y":3.19},{"x":126,"y":3.37},{"x":126,"y":3.55},{"x":126,"y":3.72},
{"x":127,"y":3.02},{"x":127,"y":3.2},{"x":127,"y":3.38},{"x":127,"y":3.56},{"x":127,"y":3.74},{"x":127,"y":3.9},
{"x":127,"y":3.11},{"x":127,"y":3.29},{"x":127,"y":3.47},{"x":127,"y":3.65},
{"x":128,"y":2.93},{"x":128,"y":3.08},{"x":128,"y":3.26},{"x":128,"y":3.44},{"x":128,"y":3.62},{"x":128,"y":3.78},
{"x":128,"y":3.35},{"x":128,"y":3.53},
{"x":129,"y":2.88},{"x":129,"y":3.14},{"x":129,"y":3.32},{"x":129,"y":3.5},{"x":129,"y":3.68},{"x":129,"y":3.85},
{"x":129,"y":3.41},{"x":129,"y":3.59},
{"x":130,"y":2.85},{"x":130,"y":3.05},{"x":130,"y":3.22},{"x":130,"y":3.4},{"x":130,"y":3.58},{"x":130,"y":3.74},
{"x":131,"y":2.85},{"x":131,"y":3.12},{"x":131,"y":3.3},{"x":131,"y":3.48},{"x":131,"y":3.66},{"x":131,"y":3.82},
{"x":132,"y":3.0},{"x":132,"y":3.18},{"x":132,"y":3.36},{"x":132,"y":3.54},{"x":132,"y":3.72},{"x":132,"y":3.88},
{"x":133,"y":3.08},{"x":133,"y":3.26},{"x":133,"y":3.44},{"x":133,"y":3.62},{"x":133,"y":3.8},
{"x":134,"y":3.2},{"x":134,"y":3.38},{"x":134,"y":3.56},{"x":134,"y":3.74},
{"x":135,"y":3.3},{"x":135,"y":3.47},{"x":135,"y":3.62},{"x":135,"y":3.78},
{"x":136,"y":2.7},{"x":136,"y":3.2},{"x":136,"y":3.42},{"x":136,"y":3.6},
{"x":137,"y":3.48},{"x":137,"y":3.64},{"x":137,"y":3.82},
{"x":138,"y":2.98},{"x":138,"y":3.05},{"x":138,"y":3.4},{"x":138,"y":3.56},{"x":138,"y":3.8},
{"x":139,"y":3.05},{"x":139,"y":3.47},{"x":139,"y":3.62},{"x":139,"y":3.7},
{"x":140,"y":3.03},{"x":140,"y":3.08},{"x":140,"y":3.47},{"x":140,"y":3.54},{"x":140,"y":3.62},{"x":140,"y":3.78},
{"x":141,"y":3.1},{"x":141,"y":3.54},{"x":141,"y":3.62},{"x":141,"y":3.82},
{"x":142,"y":2.7},{"x":146,"y":2.75},{"x":146,"y":2.97},{"x":146,"y":3.49},{"x":147,"y":3.87},{"x":149,"y":2.36},{"x":153,"y":2.83},{"x":158,"y":2.83}
],
"anchor": [{"x":50,"y":5}]
},
"resolve": {"axis": {"x": "independent", "y": "independent"}},
"layer": [
{"data": {"name": "pts"},
 "mark": {"type": "point", "filled": true, "shape": "circle", "size": 17, "color": "black", "opacity": 1},
 "encoding": {
  "x": {"field": "x", "type": "quantitative", "scale": {"domain": [2.9, 168], "nice": false, "zero": false},
        "axis": {"orient": "bottom", "values": [50, 100, 150], "tickSize": -9, "labelPadding": 10, "title": "S_N", "titlePadding": 13}},
  "y": {"field": "y", "type": "quantitative", "scale": {"domain": [1.35, 16.17], "nice": false, "zero": false},
        "axis": {"orient": "left", "values": [5, 10, 15], "tickSize": -9, "labelPadding": 9, "title": "err\u00a0\u00a0(m.s-1)", "titlePadding": 17}}
 }},
{"data": {"name": "anchor"},
 "mark": {"type": "point", "opacity": 0},
 "encoding": {
  "x": {"field": "x", "type": "quantitative", "axis": {"orient": "bottom", "values": [10,20,30,40,60,70,80,90,110,120,130,140,160], "tickSize": -5, "labels": false, "title": null}},
  "y": {"field": "y", "type": "quantitative", "axis": {"orient": "left", "values": [2,3,4,6,7,8,9,11,12,13,14,16], "tickSize": -5, "labels": false, "title": null}}
 }},
{"data": {"name": "anchor"},
 "mark": {"type": "point", "opacity": 0},
 "encoding": {
  "x": {"field": "x", "type": "quantitative", "axis": {"orient": "top", "values": [50, 100, 150], "tickSize": -9, "labels": false, "title": null}},
  "y": {"field": "y", "type": "quantitative", "axis": {"orient": "right", "values": [5, 10, 15], "tickSize": -9, "labels": false, "title": null}}
 }},
{"data": {"name": "anchor"},
 "mark": {"type": "point", "opacity": 0},
 "encoding": {
  "x": {"field": "x", "type": "quantitative", "axis": {"orient": "top", "values": [10,20,30,40,60,70,80,90,110,120,130,140,160], "tickSize": -5, "labels": false, "title": null}},
  "y": {"field": "y", "type": "quantitative", "axis": {"orient": "right", "values": [2,3,4,6,7,8,9,11,12,13,14,16], "tickSize": -5, "labels": false, "title": null}}
 }}
]
}
